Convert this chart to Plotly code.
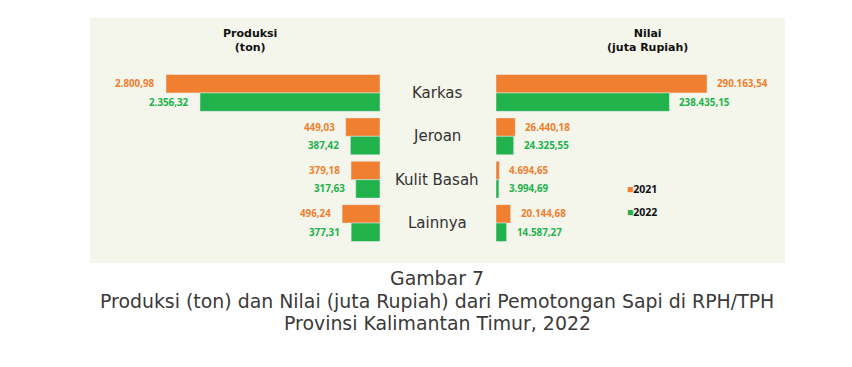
import plotly.graph_objects as go

categories = ["Karkas", "Jeroan", "Kulit Basah", "Lainnya"]
years = ["2021", "2022"]
produksi_2021 = [2800.98, 449.03, 379.18, 496.24]
produksi_2022 = [2356.32, 387.42, 317.63, 377.31]
nilai_2021 = [290163.54, 26440.18, 4694.65, 20144.68]
nilai_2022 = [238435.15, 24325.55, 3994.69, 14587.27]
caption_lines = ["Gambar 7",
                 "Produksi (ton) dan Nilai (juta Rupiah) dari Pemotongan Sapi di RPH/TPH",
                 "Provinsi Kalimantan Timur, 2022"]

ORANGE = "#F07F2F"
GREEN = "#21B24B"
PAD = 8
W, H = 852 - 2 * PAD, 367 - 2 * PAD

def px(x):
    return (x - PAD) / W

def py(y):
    return 1 - (y - PAD) / H

def fmt(v):
    s = f"{v:,.2f}"
    return s.replace(",", "X").replace(".", ",").replace("X", ".")

fig = go.Figure()
series = [(years[0], produksi_2021, nilai_2021, ORANGE), (years[1], produksi_2022, nilai_2022, GREEN)]
for name, prod, nil, col in series:
    fig.add_trace(go.Bar(y=categories, x=prod, orientation="h", name=name, marker_color=col,
                         xaxis="x", yaxis="y", showlegend=False, hoverinfo="x"))
    fig.add_trace(go.Bar(y=categories, x=nil, orientation="h", name=name, marker_color=col,
                         xaxis="x2", yaxis="y2", showlegend=False, hoverinfo="x"))

ydom = [py(244.75), py(71.25)]
fig.update_layout(
    width=W, height=H, margin=dict(l=0, r=0, t=0, b=0),
    paper_bgcolor="white", plot_bgcolor="rgba(0,0,0,0)",
    barmode="group", bargap=0.15, bargroupgap=0,
    xaxis=dict(domain=[px(100), px(380)], range=[3665, 0], visible=False, fixedrange=True),
    xaxis2=dict(domain=[px(496), px(776)], range=[0, 385000], visible=False, fixedrange=True),
    yaxis=dict(domain=ydom, anchor="x", autorange="reversed", visible=False),
    yaxis2=dict(domain=ydom, anchor="x2", autorange="reversed", visible=False),
    font=dict(family="Open Sans", color="#333333"),
)

fig.add_shape(type="rect", xref="paper", yref="paper", x0=px(90), x1=px(785), y0=py(263), y1=py(18),
              fillcolor="#F4F5EB", line_width=0, layer="below")

ann = []
off = 0.2125
for i, c in enumerate(categories):
    ann.append(dict(x=px(437), xref="paper", y=i, yref="y", text=c, showarrow=False,
                    font=dict(size=15, color="#333333", family="DejaVu Sans"), xanchor="center"))
    for j, (name, prod, nil, col) in enumerate(series):
        yy = i - off if j == 0 else i + off
        ann.append(dict(x=prod[i], xref="x", y=yy, yref="y", text="<b>" + fmt(prod[i]) + "</b>",
                        showarrow=False, xanchor="right", xshift=-9,
                        font=dict(size=9.8, color=col, family="Open Sans")))
        ann.append(dict(x=nil[i], xref="x2", y=yy, yref="y2", text="<b>" + fmt(nil[i]) + "</b>",
                        showarrow=False, xanchor="left", xshift=8,
                        font=dict(size=9.8, color=col, family="Open Sans")))

ann.append(dict(x=px(250), y=py(40), xref="paper", yref="paper", text="<b>Produksi<br>(ton)</b>",
                showarrow=False, font=dict(size=11, color="#111111", family="DejaVu Sans"),
                xanchor="center", yanchor="middle"))
ann.append(dict(x=px(647), y=py(40), xref="paper", yref="paper", text="<b>Nilai<br>(juta Rupiah)</b>",
                showarrow=False, font=dict(size=11, color="#111111", family="DejaVu Sans"),
                xanchor="center", yanchor="middle"))

for k, (name, prod, nil, col) in enumerate(series):
    ann.append(dict(x=px(625), y=py(189 + 23 * k), xref="paper", yref="paper",
                    text=f"<span style='color:{col}'>■</span><b>{name}</b>",
                    showarrow=False, xanchor="left", yanchor="middle",
                    font=dict(size=10.5, color="#111111")))

for k, line in enumerate(caption_lines):
    ann.append(dict(x=px(437), y=py([278, 301, 323][k]), xref="paper", yref="paper",
                    text=line, showarrow=False, xanchor="center", yanchor="middle",
                    font=dict(size=18.9, color="#3a3a3a", family="DejaVu Sans")))

fig.update_layout(annotations=ann)
fig.write_html("out.html")
